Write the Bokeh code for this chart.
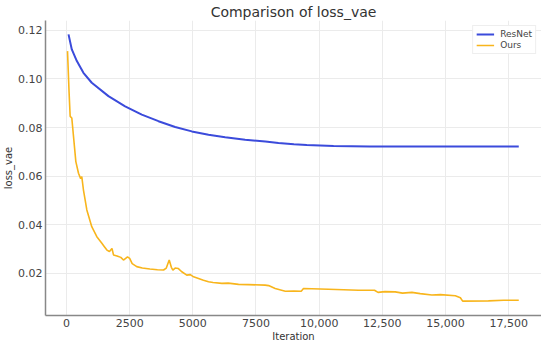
from bokeh.plotting import figure
from bokeh.models import Range1d, FixedTicker, Legend, LegendItem
from bokeh.embed import file_html
from bokeh.resources import INLINE

# ---- data ----
resnet_iter = [80, 210, 410, 670, 1000, 1660, 2320, 2980, 3640, 4300, 4960, 5620, 6280,
               7070, 7870, 8390, 9000, 9510, 10570, 12000, 14000, 16000, 17900]
resnet_loss = [0.1183, 0.1121, 0.1073, 0.1025, 0.0984, 0.0929, 0.0887, 0.0853, 0.0826,
               0.0802, 0.0784, 0.0770, 0.0760, 0.0750, 0.0742, 0.0736, 0.0731, 0.0728,
               0.0724, 0.0722, 0.0722, 0.0722, 0.0722]

ours_iter = [40, 100, 145, 210, 370, 475, 560, 605, 670, 805, 1000, 1200, 1400, 1500,
             1600, 1700, 1800, 1860, 2000, 2150, 2255, 2415, 2500, 2600, 2780, 3000,
             3300, 3600, 3840, 3950, 4065, 4150, 4210, 4300, 4430, 4550, 4760, 4900, 5030,
             5225, 5420, 5620, 5800, 6150, 6400, 6810, 7200, 7860, 8000, 8260, 8660, 9000,
             9290, 9380, 10370, 11560, 12190, 12330, 12600, 13010, 13300, 13670, 14000,
             14460, 14800, 15390, 15590, 15680, 16700, 17300, 17900]
ours_loss = [0.1114, 0.095, 0.0846, 0.0839, 0.066, 0.0612, 0.0590, 0.0598, 0.0544, 0.0461,
             0.0392, 0.0351, 0.0324, 0.0310, 0.0296, 0.0290, 0.0303, 0.0276, 0.0272,
             0.0266, 0.0255, 0.0268, 0.0262, 0.0240, 0.0228, 0.0222, 0.0218, 0.0215,
             0.0214, 0.0222, 0.0255, 0.0225, 0.0214, 0.0222, 0.0220, 0.0208, 0.0193,
             0.0195, 0.0186, 0.0179, 0.0172, 0.0166, 0.0163, 0.0159, 0.0160, 0.0155,
             0.0154, 0.0152, 0.0150, 0.0138, 0.0127, 0.0128, 0.0127, 0.0138, 0.0135,
             0.0131, 0.0131, 0.0122, 0.0125, 0.0124, 0.0119, 0.0122, 0.0117, 0.0111,
             0.0113, 0.0108, 0.0100, 0.0086, 0.0087, 0.0090, 0.0090]

x_ticks = [0, 2500, 5000, 7500, 10000, 12500, 15000, 17500]
x_tick_labels = ["0", "2500", "5000", "7500", "10,000", "12,500", "15,000", "17,500"]
y_ticks = [0.02, 0.04, 0.06, 0.08, 0.10, 0.12]
y_tick_labels = ["0.02", "0.04", "0.06", "0.08", "0.10", "0.12"]

FONT = "DejaVu Sans"

p = figure(frame_width=496, frame_height=295, output_backend="svg", toolbar_location=None,
           x_range=Range1d(-831, 18800), y_range=Range1d(0.0027, 0.124),
           title="Comparison of loss_vae")
p.min_border_left = 0
p.min_border_right = 0
p.min_border_top = 0
p.min_border_bottom = 0
p.outline_line_color = None
p.background_fill_color = "white"

p.title.align = "center"
p.title.text_font = FONT
p.title.text_font_size = "14px"
p.title.text_font_style = "normal"
p.title.text_color = "#333333"
p.title.standoff = 2

l1 = p.line(resnet_iter, resnet_loss, line_color="#3b4bdb", line_width=2)
l2 = p.line(ours_iter, ours_loss, line_color="#f8b51c", line_width=1.6)

for ax in (p.xaxis[0], p.yaxis[0]):
    ax.axis_line_color = "#888888"
    ax.axis_line_width = 1.5
    ax.major_tick_line_color = None
    ax.minor_tick_line_color = None
    ax.major_tick_out = 0
    ax.major_tick_in = 0
    ax.minor_tick_out = 0
    ax.minor_tick_in = 0
    ax.major_label_text_font = FONT
    ax.major_label_text_font_size = "11px"
    ax.major_label_text_color = "#444444"
    ax.axis_label_text_font = FONT
    ax.axis_label_text_font_size = "10px"
    ax.axis_label_text_font_style = "normal"
    ax.axis_label_text_color = "#333333"
    ax.major_label_standoff = 3
    ax.axis_label_standoff = 1

p.xaxis.ticker = FixedTicker(ticks=x_ticks)
p.xaxis.major_label_overrides = {t: s for t, s in zip(x_ticks, x_tick_labels)}
p.yaxis.ticker = FixedTicker(ticks=y_ticks)
p.yaxis.major_label_overrides = {t: s for t, s in zip(y_ticks, y_tick_labels)}
p.xaxis.axis_label = "Iteration"
p.yaxis.axis_label = "loss_vae"

p.xgrid.grid_line_color = "#ebebeb"
p.ygrid.grid_line_color = "#ebebeb"
p.xgrid.ticker = FixedTicker(ticks=x_ticks)
p.ygrid.ticker = FixedTicker(ticks=y_ticks)

legend = Legend(items=[LegendItem(label="ResNet", renderers=[l1]),
                       LegendItem(label="Ours", renderers=[l2])],
                location="top_right")
legend.label_text_font = FONT
legend.label_text_font_size = "9px"
legend.label_text_color = "#444444"
legend.glyph_width = 18
legend.glyph_height = 10
legend.spacing = 1
legend.padding = 3
legend.margin = 5
legend.label_standoff = 6
legend.border_line_color = "#dddddd"
legend.label_height = 10
p.add_layout(legend)

open("out.html", "w").write(file_html(p, INLINE))
